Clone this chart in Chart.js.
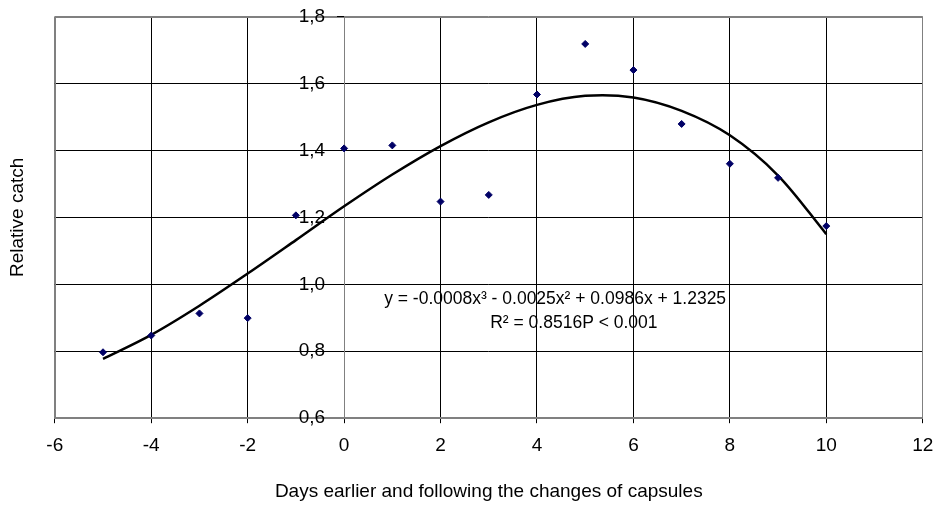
<!DOCTYPE html>
<html>
<head>
<meta charset="utf-8">
<title>Relative catch</title>
<script src="https://cdn.jsdelivr.net/npm/chart.js@4.4.0/dist/chart.umd.min.js"></script>
<style>
  html, body { margin: 0; padding: 0; background: #fff; }
  #wrap { width: 944px; height: 506px; position: relative; }
</style>
</head>
<body>
<div id="wrap"><canvas id="chart"></canvas></div>
<script>
// data
const days = [-5, -4, -3, -2, -1, 0, 1, 2, 3, 4, 5, 6, 7, 8, 9, 10];
const relativeCatch = [0.797, 0.847, 0.913, 0.899, 1.206, 1.406, 1.415, 1.247, 1.267, 1.567, 1.718, 1.640, 1.479, 1.360, 1.318, 1.174];
// polynomial trend line, read at each day
const trendCatch = [0.777, 0.849, 0.936, 1.032, 1.132, 1.233, 1.328, 1.413, 1.484, 1.536, 1.563, 1.558, 1.518, 1.445, 1.325, 1.150];
const xRange = [-6, 12, 2];
const yRange = [0.6, 1.8, 0.2];
const equationLines = ['y = -0.0008x³ - 0.0025x² + 0.0986x + 1.2325', 'R² = 0.8516P < 0.001'];

const FONT = "'Liberation Sans', Arial, sans-serif";
const GRAY = '#808080';

// where the equation text sits (in data units)
const equationAnchors = [{ x: 0.83, y: 0.956 }, { x: 3.03, y: 0.884 }];

const toPoints = (ys) => ys.map((y, i) => ({ x: days[i], y: y }));
const fmtY = (v) => v.toFixed(1).replace('.', ',');

const equationPlugin = {
  id: 'equation',
  afterDatasetsDraw(chart) {
    const { ctx, scales } = chart;
    ctx.save();
    ctx.font = '17.5px ' + FONT;
    ctx.fillStyle = '#000';
    ctx.textAlign = 'left';
    ctx.textBaseline = 'middle';
    equationLines.forEach((line, i) => {
      const a = equationAnchors[i];
      ctx.fillText(line, scales.x.getPixelForValue(a.x), scales.y.getPixelForValue(a.y));
    });
    ctx.restore();
  }
};

// y labels sit left of the axis that crosses at x = 0
const yLabelPlugin = {
  id: 'yLabels',
  afterDraw(chart) {
    const { ctx, scales } = chart;
    const x0 = scales.x.getPixelForValue(0) - 19;
    ctx.save();
    ctx.font = '19px ' + FONT;
    ctx.fillStyle = '#000';
    ctx.textAlign = 'right';
    ctx.textBaseline = 'middle';
    scales.y.ticks.forEach((t) => {
      ctx.fillText(fmtY(t.value), x0, scales.y.getPixelForValue(t.value));
    });
    ctx.restore();
  }
};

const framePlugin = {
  id: 'frame',
  beforeDatasetsDraw(chart) {
    const { ctx, chartArea: a } = chart;
    ctx.save();
    ctx.strokeStyle = GRAY;
    ctx.lineWidth = 1;
    ctx.strokeRect(Math.round(a.left) + 0.5, Math.round(a.top) + 0.5,
      Math.round(a.right - a.left) - 1, Math.round(a.bottom - a.top) - 1);
    ctx.restore();
  }
};

const edgeColor = (edges) => (c) => (c.tick && edges.includes(c.tick.value)) ? GRAY : '#000';

new Chart(document.getElementById('chart'), {
  type: 'scatter',
  data: {
    datasets: [
      {
        label: 'Relative catch',
        data: toPoints(relativeCatch),
        pointStyle: 'rectRot',
        pointRadius: 3.5,
        backgroundColor: '#000066',
        borderColor: '#000066',
        borderWidth: 1,
        order: 1
      },
      {
        label: 'Trend',
        type: 'line',
        data: toPoints(trendCatch),
        borderColor: '#000',
        borderWidth: 2.5,
        pointRadius: 0,
        tension: 0.33,
        fill: false,
        order: 2
      }
    ]
  },
  options: {
    responsive: true,
    maintainAspectRatio: false,
    animation: false,
    devicePixelRatio: 1,
    layout: { padding: { left: 0, top: 16.5, right: 7, bottom: 0 } },
    plugins: {
      legend: { display: false },
      tooltip: { enabled: false }
    },
    scales: {
      x: {
        type: 'linear',
        position: 'bottom',
        min: xRange[0],
        max: xRange[1],
        ticks: {
          stepSize: xRange[2],
          color: '#000',
          font: { family: FONT, size: 19 },
          padding: 10.7
        },
        grid: {
          color: edgeColor([xRange[0], 0, xRange[1]]),
          lineWidth: 1,
          tickLength: 5,
          tickColor: '#000'
        },
        border: { color: GRAY, width: 2 },
        title: {
          display: true,
          text: 'Days earlier and following the changes of capsules',
          color: '#000',
          font: { family: FONT, size: 19 },
          padding: { top: 12.8, bottom: 3 }
        }
      },
      y: {
        type: 'linear',
        position: { x: 0 },
        min: yRange[0],
        max: yRange[1],
        ticks: {
          stepSize: yRange[2],
          display: false
        },
        grid: {
          color: edgeColor([yRange[1]]),
          lineWidth: 1,
          tickLength: 7,
          tickColor: '#000'
        },
        border: { color: GRAY, width: 1 }
      },
      yTitle: {
        type: 'linear',
        position: 'left',
        ticks: { display: false },
        grid: { display: false, drawTicks: false },
        border: { display: false },
        title: {
          display: true,
          text: 'Relative catch',
          color: '#000',
          font: { family: FONT, size: 19 },
          padding: { top: 6, bottom: 26 }
        }
      }
    }
  },
  plugins: [framePlugin, equationPlugin, yLabelPlugin]
});
</script>
</body>
</html>
